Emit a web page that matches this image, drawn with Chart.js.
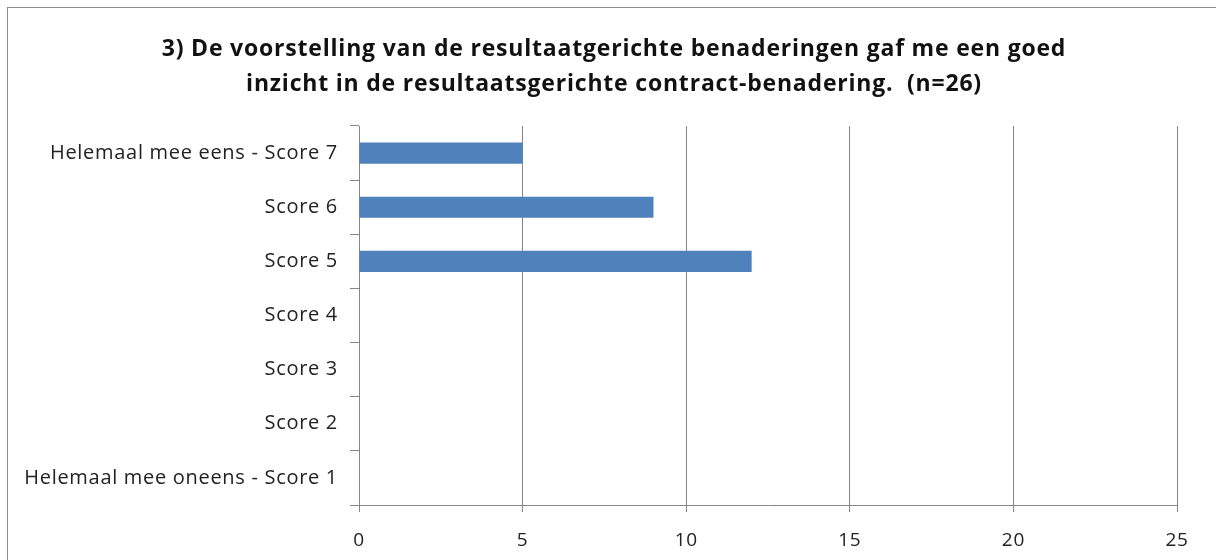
<!DOCTYPE html>
<html>
<head>
<meta charset="utf-8">
<script src="https://cdn.jsdelivr.net/npm/chart.js@4/dist/chart.umd.min.js"></script>
<style>
  html, body { margin: 0; padding: 0; background: #fff; }
  #wrap { position: relative; width: 1216px; height: 560px; overflow: hidden; }
  #frame { position: absolute; left: 7px; top: 7px; width: 1208px; height: 600px; border: 1px solid #8c8c8c; }
  canvas { position: absolute; left: 0; top: 0; }
  #title {
    position: absolute; left: 12px; top: 30px; width: 1204px;
    text-align: center; color: #111;
    font-family: 'Open Sans', 'Noto Sans', sans-serif;
    font-weight: bold; font-size: 23px; line-height: 35px; letter-spacing: 0.8px;
  }
</style>
</head>
<body>
<div id="wrap">
  <div id="frame"></div>
  <canvas id="graph" width="1216" height="560"></canvas>
  <div id="title"></div>
</div>
<script>
var g_titleLines = [
    "3) De voorstelling van de resultaatgerichte benaderingen gaf me een goed",
    "inzicht in de resultaatsgerichte contract-benadering.  (n=26)"
];
var g_categories = [
    "Helemaal mee eens - Score 7",
    "Score 6",
    "Score 5",
    "Score 4",
    "Score 3",
    "Score 2",
    "Helemaal mee oneens - Score 1"
];
var g_values = [5, 9, 12, 0, 0, 0, 0];
var g_xTicks = [0, 5, 10, 15, 20, 25];

var g_barBlue = "#4f81bd";
var g_gridGray = "#868686";
var g_font = "'Open Sans', 'Noto Sans', sans-serif";

// title as page text, one line per entry
var $title = document.getElementById("title");
$title.innerHTML = g_titleLines.map(function (s) {
    return s.replace(/  /g, " &nbsp;");
}).join("<br>");

// the reference labels are a bit wider than Open Sans
var letterSpacingPlugin = {
    id: "letterSpacing",
    beforeDraw: function (chart) { chart.ctx.letterSpacing = "0.7px"; }
};

var ctx = document.getElementById("graph").getContext("2d");
var g_chart = new Chart(ctx, {
    type: "bar",
    data: {
        labels: g_categories,
        datasets: [{
            data: g_values,
            backgroundColor: g_barBlue,
            borderWidth: 0,
            barPercentage: 0.39,
            categoryPercentage: 1
        }]
    },
    plugins: [letterSpacingPlugin],
    options: {
        indexAxis: "y",
        responsive: false,
        animation: false,
        layout: { padding: { left: 0, right: 39, top: 126, bottom: 0 } },
        plugins: {
            legend: { display: false },
            tooltip: { enabled: false },
            title: { display: false }
        },
        scales: {
            x: {
                min: 0,
                max: 25,
                afterBuildTicks: function (scale) {
                    scale.ticks = g_xTicks.map(function (v) { return { value: v }; });
                },
                afterFit: function (scale) { scale.height = 55; },
                grid: {
                    color: g_gridGray,
                    lineWidth: 1,
                    tickLength: 7
                },
                border: { color: g_gridGray, width: 1 },
                ticks: {
                    color: "#222",
                    padding: 17,
                    font: { family: g_font, size: 19 }
                }
            },
            y: {
                afterFit: function (scale) { scale.width = 359; },
                grid: {
                    offset: true,
                    drawOnChartArea: false,
                    color: g_gridGray,
                    tickLength: 9
                },
                border: { color: g_gridGray, width: 1 },
                ticks: {
                    color: "#222",
                    padding: 12,
                    font: { family: g_font, size: 20 }
                }
            }
        }
    }
});
</script>
</body>
</html>
